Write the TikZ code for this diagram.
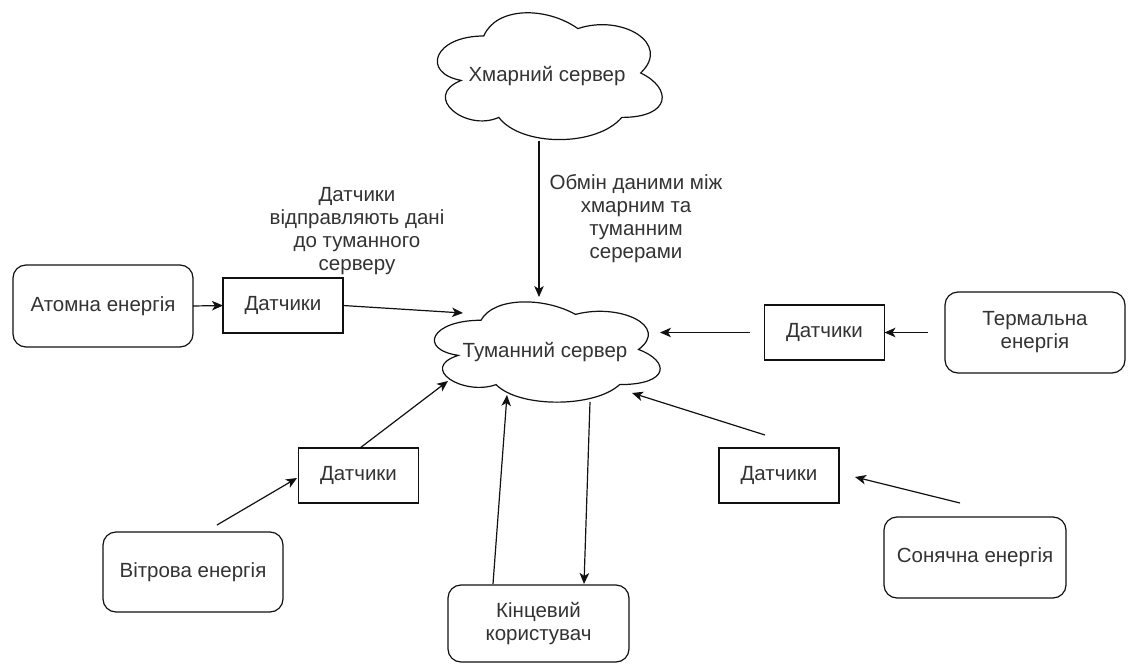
\documentclass[tikz,border=0pt]{standalone}
\usepackage{fontspec}
\setmainfont{Liberation Sans}
\usetikzlibrary{arrows.meta}
\definecolor{ink}{RGB}{17,17,17}
\definecolor{txt}{RGB}{51,51,51}
\begin{document}
\begin{tikzpicture}[x=1pt,y=-1pt,
  font=\fontsize{20.5}{23}\selectfont,
  lbl/.style={text=txt, align=center, inner sep=0pt},
  box/.style={draw=ink, line width=1.2pt, text=txt, align=center,
              inner sep=0pt, outer sep=0pt},
  sensor/.style={box, minimum width=120pt, minimum height=55pt},
  source/.style={box, rounded corners=13pt, minimum width=180pt, minimum height=81pt},
  arr/.style={draw=ink, line width=1.2pt,
              -{Stealth[length=11pt,width=9.5pt,inset=3pt]}},
  cloudline/.style={draw=ink, line width=1.2pt}
]
% page
\fill[white] (0,0) rectangle (1128,664);
\useasboundingbox (0,0) rectangle (1128,664);

% cloud outline in a unit box, scaled to the given frame
\newcommand\cloudoutline[4]{%
  \begin{scope}[shift={(#1,#2)}, xscale=#3, yscale=#4]
    \path[cloudline] (0.25,0.25) .. controls (0.05,0.25) and (0,0.5) .. (0.16,0.55)
      .. controls (0,0.66) and (0.18,0.9) .. (0.31,0.8)
      .. controls (0.4,1) and (0.7,1) .. (0.8,0.8)
      .. controls (1,0.8) and (1,0.6) .. (0.875,0.5)
      .. controls (1,0.3) and (0.8,0.1) .. (0.625,0.2)
      .. controls (0.5,0.05) and (0.3,0.05) .. (0.25,0.25) -- cycle;
  \end{scope}}

% clouds
\cloudoutline{421}{-1}{251}{148}
\node[lbl] (cloud) at (547,76) {Хмарний сервер};
\cloudoutline{418}{291}{252}{117}
\node[lbl] (fog) at (545,352) {Туманний сервер};

% sources and sensors
\node[source, minimum height=82pt] (atom) at (103,306) {Атомна енергія};
\node[sensor] (dsL) at (283,305.5) {Датчики};
\node[source] (therm) at (1035,332.5) {Термальна\\енергія};
\node[sensor] (dsR) at (824.5,332.5) {Датчики};
\node[sensor] (dsLL) at (358.5,475.5) {Датчики};
\node[source, minimum height=80pt] (wind) at (193,572) {Вітрова енергія};
\node[sensor] (dsLR) at (779,475.5) {Датчики};
\node[source, minimum width=182pt] (sun) at (975,557.5) {Сонячна енергія};
\node[source, minimum width=181pt, minimum height=77pt] (user) at (538.5,623.5) {Кінцевий\\користувач};

% free labels
\node[lbl] (note1) at (357,231) {Датчики\\відправляють дані\\до туманного\\серверу};
\node[lbl] (note2) at (636,219) {Обмін даними між\\хмарним та\\туманним\\серерами};

% connector ends that stop short of the shapes
\coordinate (cloudB) at (539,141);
\coordinate (fogT) at (539,297);
\coordinate (fogWL) at (463,313);
\coordinate (thermW) at (928,332.5);
\coordinate (dsRW) at (750,332.5);
\coordinate (fogE) at (660,332.5);
\coordinate (windT) at (217,525);
\coordinate (dsLLW) at (297,478);
\coordinate (dsLLN) at (360,448);
\coordinate (fogSW) at (448,381);
\coordinate (sunT) at (960,503);
\coordinate (dsLRE) at (855,477);
\coordinate (dsLRN) at (765,435);
\coordinate (fogSE) at (632,393);
\coordinate (userN) at (493,584);
\coordinate (fogS) at (507,395);
\coordinate (fogS2) at (590,402);
\coordinate (userN2) at (584,584);

% connectors
\draw[arr] (cloudB) -- (fogT);
\draw[arr] (atom.east) -- (dsL.west);
\draw[arr] (dsL.east) -- (fogWL);
\draw[arr] (thermW) -- (dsR.east);
\draw[arr] (dsRW) -- (fogE);
\draw[arr] (windT) -- (dsLLW);
\draw[arr] (dsLLN) -- (fogSW);
\draw[arr] (sunT) -- (dsLRE);
\draw[arr] (dsLRN) -- (fogSE);
\draw[arr] (userN) -- (fogS);
\draw[arr] (fogS2) -- (userN2);
\end{tikzpicture}
\end{document}
